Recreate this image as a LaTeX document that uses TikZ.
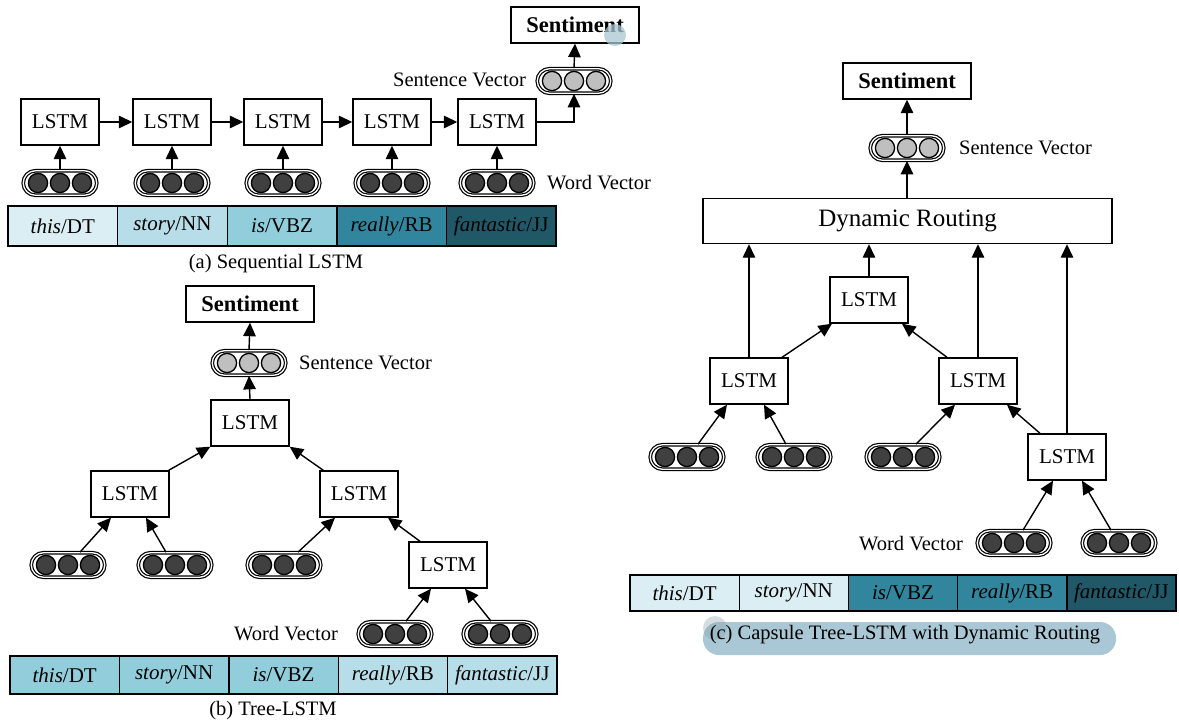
\documentclass[tikz,border=0pt]{standalone}
\usepackage{fontspec}
\setmainfont{Liberation Serif}
\newfontfamily\tnr{Liberation Serif}
\usetikzlibrary{arrows.meta,calc}
\definecolor{c1}{HTML}{DAEEF3}
\definecolor{c2}{HTML}{B7DDE8}
\definecolor{c3}{HTML}{92CDDC}
\definecolor{c4}{HTML}{31859C}
\definecolor{c5}{HTML}{215868}
\definecolor{dotdark}{HTML}{404040}
\definecolor{dotlight}{HTML}{BFBFBF}
\definecolor{hilite}{HTML}{A9C7D4}
\newcommand\capdots[2]{\foreach \dx in {-22,0,22}{\filldraw[fill=#2, line width=1.3pt] ($(#1)+(\dx,0)$) circle[radius=9.6pt];}}
\tikzset{
 lstm/.style={draw, line width=1.4pt, fill=white, minimum width=78pt, minimum height=46pt, inner sep=0pt, font=\tnr\fontsize{21}{23}\selectfont},
 senti/.style={draw, line width=1.4pt, fill=white, minimum width=128pt, minimum height=36pt, inner sep=0pt, font=\tnr\fontsize{22.5}{24}\selectfont\bfseries},
 caps/.style={draw, line width=1.2pt, double, double distance=1.3pt, rounded corners=12.25pt, minimum width=73.5pt, minimum height=24.5pt, inner sep=0pt},
 arr/.style={line width=1.4pt, -{Triangle[length=13.5pt,width=12.5pt]}},
 lab/.style={font=\tnr\fontsize{20.5}{22}\selectfont, inner sep=0pt},
 cella/.style={draw, line width=1.4pt, inner sep=0pt, minimum width=109.6pt, minimum height=40pt, font=\tnr\fontsize{21}{23}\selectfont},
 cellb/.style={draw, line width=1.4pt, inner sep=0pt, minimum width=109.4pt, minimum height=38pt, font=\tnr\fontsize{21}{23}\selectfont},
 cellc/.style={draw, line width=1.4pt, inner sep=0pt, minimum width=109.2pt, minimum height=36pt, font=\tnr\fontsize{21}{23}\selectfont},
}
\begin{document}
\begin{tikzpicture}[x=1pt,y=-1pt]
\useasboundingbox (0,0) rectangle (1179,723);
% ---------------- (a) ----------------
\node[lstm] (a1) at (60,122) {LSTM};
\node[lstm] (a2) at (172,122) {LSTM};
\node[lstm] (a3) at (283,122) {LSTM};
\node[lstm] (a4) at (392,122) {LSTM};
\node[lstm] (a5) at (497,122) {LSTM};
\foreach \i/\x in {1/60,2/172,3/283,4/392,5/497}{
  \node[caps] (aw\i) at (\x,183) {};
  \capdots{aw\i}{dotdark}
  \draw[arr] (aw\i.north) -- (a\i.south);
}
\draw[arr] (a1.east) -- (a2.west);
\draw[arr] (a2.east) -- (a3.west);
\draw[arr] (a3.east) -- (a4.west);
\draw[arr] (a4.east) -- (a5.west);
\node[senti] (as) at (575,25) {Sentiment};
\node[caps] (asv) at (574,81) {};
\capdots{asv}{dotlight}
\draw[arr] (a5.east) -| (asv.south);
\draw[arr] (asv.north) -- (as.south);
\node[lab, anchor=east] (asvl) at (526,80) {Sentence Vector};
\node[lab, anchor=west] (awl) at (547,183) {Word Vector};
\node[cella, fill=c1] (at1) at (62.8,226) {\textit{this}/DT};
\node[cella, fill=c2] (at2) at (172.4,226) {\textit{story}/NN};
\node[cella, fill=c3] (at3) at (282,226) {\textit{is}/VBZ};
\node[cella, fill=c4] (at4) at (391.6,226) {\textit{really}/RB};
\node[cella, fill=c5] (at5) at (501.2,226) {\textit{fantastic}/JJ};
\node[lab] (acap) at (276,264) {(a) Sequential LSTM};
% ---------------- (b) ----------------
\node[senti] (bs) at (250,304) {Sentiment};
\node[caps] (bsv) at (249,363) {};
\capdots{bsv}{dotlight}
\node[lab, anchor=west] (bsvl) at (299,363) {Sentence Vector};
\node[lstm] (bt) at (250,423) {LSTM};
\node[lstm] (bl) at (130,494) {LSTM};
\node[lstm] (br) at (359,494) {LSTM};
\node[lstm] (brr) at (448,565) {LSTM};
\node[caps] (bw1) at (68,565) {};
\node[caps] (bw2) at (175,565) {};
\node[caps] (bw3) at (284,565) {};
\node[caps] (bw4) at (395,634) {};
\node[caps] (bw5) at (500,634) {};
\foreach \n in {bw1,bw2,bw3,bw4,bw5}{\capdots{\n}{dotdark}}
\node[lab, anchor=east] (bwl) at (338,634) {Word Vector};
\draw[arr] (bt.north) -- (bsv.south);
\draw[arr] (bsv.north) -- (bs.south);
\draw[arr] ($(bl.north east)+(-1,0)$) -- (bt.south west);
\draw[arr] ($(br.north west)+(4,0)$) -- (bt.south east);
\draw[arr] ($(bw1.north)+(12,0)$) -- ($(bl.south)+(-19,0)$);
\draw[arr] ($(bw2.north)+(-9,0)$) -- ($(bl.south)+(16,0)$);
\draw[arr] ($(bw3.north)+(14,0)$) -- ($(br.south)+(-24,0)$);
\draw[arr] ($(brr.north)+(-28,0)$) -- ($(br.south)+(29,0)$);
\draw[arr] ($(bw4.north)+(11,0)$) -- ($(brr.south)+(-17,0)$);
\draw[arr] ($(bw5.north)+(-9,0)$) -- ($(brr.south)+(17,0)$);
\node[cellb, fill=c3] (bt1) at (64.7,675) {\textit{this}/DT};
\node[cellb, fill=c3] (bt2) at (174.1,675) {\textit{story}/NN};
\node[cellb, fill=c3] (bt3) at (283.5,675) {\textit{is}/VBZ};
\node[cellb, fill=c2] (bt4) at (392.9,675) {\textit{really}/RB};
\node[cellb, fill=c2] (bt5) at (502.3,675) {\textit{fantastic}/JJ};
\node[lab] (bcap) at (273,711) {(b) Tree-LSTM};
% ---------------- (c) ----------------
\node[senti] (cs) at (907,81) {Sentiment};
\node[caps] (csv) at (907,148) {};
\capdots{csv}{dotlight}
\node[lab, anchor=west] (csvl) at (959,148) {Sentence Vector};
\node[draw, line width=1.4pt, minimum width=409pt, minimum height=45pt, inner sep=0pt, font=\tnr\fontsize{25}{27}\selectfont] (cdr) at (907.5,221) {Dynamic Routing};
\draw[arr] (cdr.north -| csv.south) -- (csv.south);
\draw[arr] (csv.north) -- (cs.south);
\node[lstm] (cm) at (869,300) {LSTM};
\node[lstm] (cl) at (749,381) {LSTM};
\node[lstm] (cr) at (978,381) {LSTM};
\node[lstm] (crr) at (1067,457) {LSTM};
\draw[arr] (cl.north) -- (cl.north |- cdr.south);
\draw[arr] (cm.north) -- (cm.north |- cdr.south);
\draw[arr] (cr.north) -- (cr.north |- cdr.south);
\draw[arr] (crr.north) -- (crr.north |- cdr.south);
\node[caps] (cw1) at (687,457) {};
\node[caps] (cw2) at (794,457) {};
\node[caps] (cw3) at (903,457) {};
\node[caps] (cw4) at (1014,543) {};
\node[caps] (cw5) at (1119,543) {};
\foreach \n in {cw1,cw2,cw3,cw4,cw5}{\capdots{\n}{dotdark}}
\node[lab, anchor=east] (cwl) at (963,544) {Word Vector};
\draw[arr] ($(cl.north)+(33,0)$) -- ($(cm.south)+(-37,0)$);
\draw[arr] ($(cr.north)+(-31,0)$) -- ($(cm.south)+(33,0)$);
\draw[arr] ($(cw1.north)+(11,0)$) -- ($(cl.south)+(-22,0)$);
\draw[arr] ($(cw2.north)+(-8,0)$) -- ($(cl.south)+(15,0)$);
\draw[arr] ($(cw3.north)+(13,0)$) -- ($(cr.south)+(-23,0)$);
\draw[arr] ($(crr.north)+(-27,0)$) -- ($(cr.south)+(29,0)$);
\draw[arr] ($(cw4.north)+(9,0)$) -- ($(crr.south)+(-14,0)$);
\draw[arr] ($(cw5.north)+(-8,0)$) -- ($(crr.south)+(15,0)$);
\node[cellc, fill=c1] (ct1) at (684.6,593) {\textit{this}/DT};
\node[cellc, fill=c1] (ct2) at (793.8,593) {\textit{story}/NN};
\node[cellc, fill=c4] (ct3) at (903,593) {\textit{is}/VBZ};
\node[cellc, fill=c4] (ct4) at (1012.2,593) {\textit{really}/RB};
\node[cellc, fill=c5] (ct5) at (1121.4,593) {\textit{fantastic}/JJ};
\fill[hilite, rounded corners=16pt] (703,622) rectangle (1116,655);
\fill[hilite!80!black, opacity=0.35] (715,628) circle[radius=12pt];
\node[lab] (ccap) at (905,635) {(c) Capsule Tree-LSTM with Dynamic Routing};
% highlight blob on (a)
\fill[hilite, opacity=0.75] (615,35) circle[radius=11pt];
\end{tikzpicture}
\end{document}
